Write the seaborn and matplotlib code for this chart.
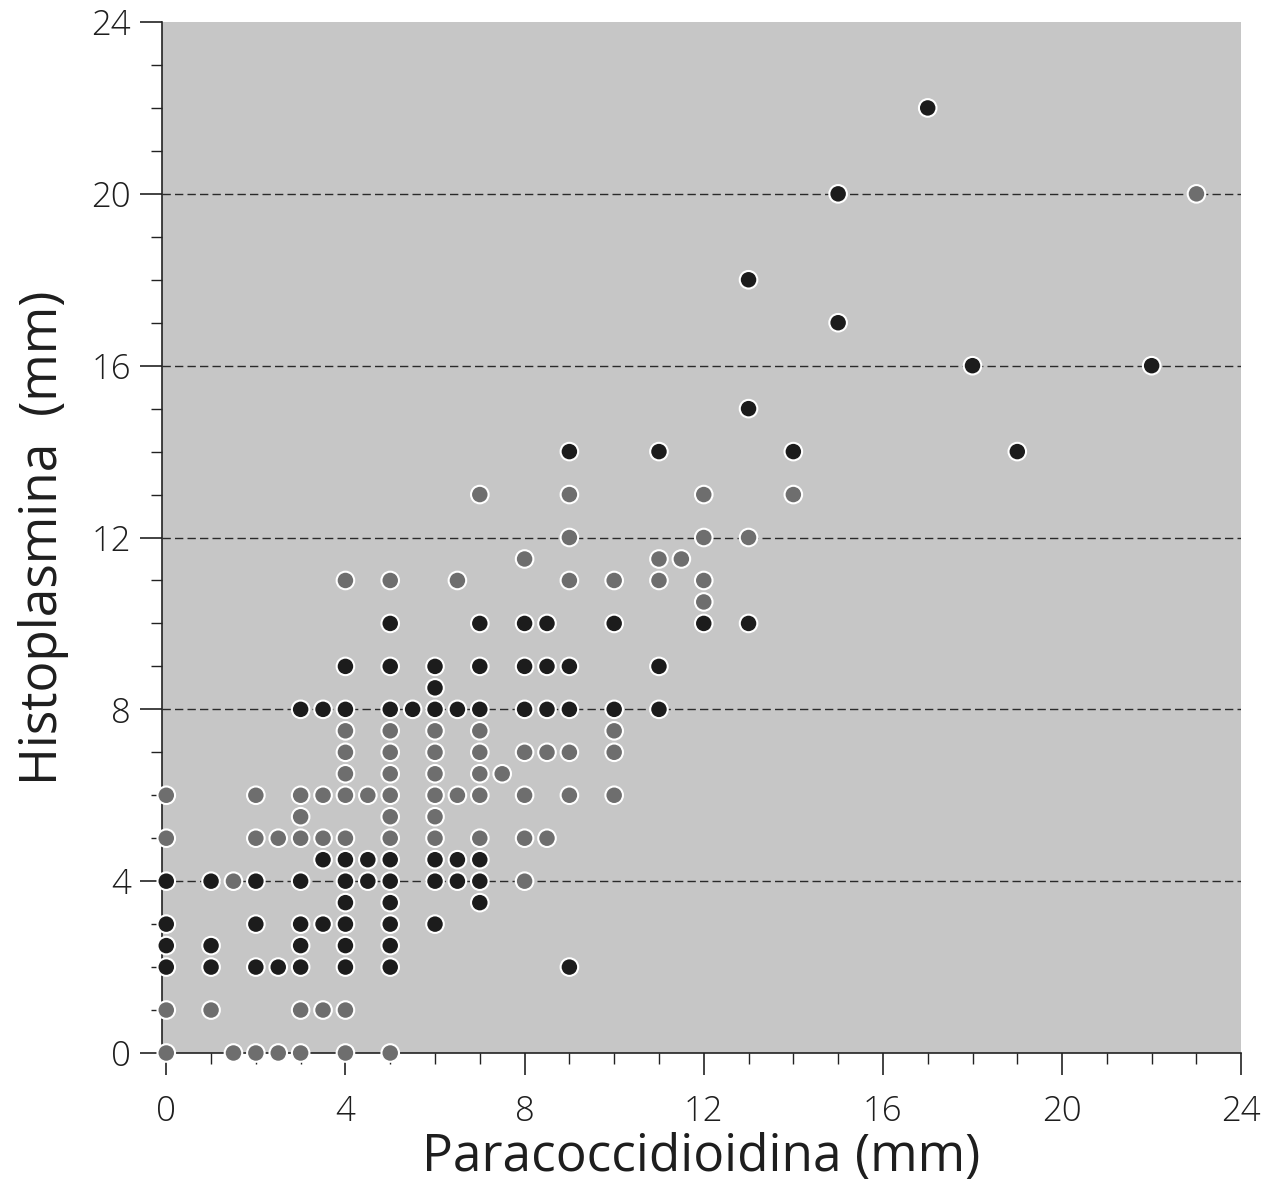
import numpy as np
import pandas as pd
import seaborn as sns
import matplotlib.pyplot as plt
from matplotlib.ticker import MultipleLocator

# puntos oscuros (x = Paracoccidioidina, y = Histoplasmina)
dark_x = [0, 1, 2, 2.5, 3, 4, 5, 9,
          0, 1, 3, 4, 5,
          0, 2, 3, 3.5, 4, 5, 6,
          4, 5, 7,
          0, 1, 2, 3, 4, 4.5, 5, 6, 6.5, 7,
          3.5, 4, 4.5, 5, 6, 6.5, 7,
          3, 3.5, 4, 5, 5.5, 6, 6.5, 7, 8, 8.5, 9, 10, 11,
          6,
          4, 5, 6, 7, 8, 8.5, 9, 11,
          5, 7, 8, 8.5, 10, 12, 13,
          9, 11, 14, 19,
          13, 18, 22, 15, 13, 15, 17]
dark_y = [2] * 8 + [2.5] * 5 + [3] * 7 + [3.5] * 3 + [4] * 10 + [4.5] * 7 \
    + [8] * 13 + [8.5] + [9] * 8 + [10] * 7 + [14] * 4 \
    + [15, 16, 16, 17, 18, 20, 22]

# puntos grises
gray_x = [0, 1.5, 2, 2.5, 3, 4, 5,
          0, 1, 3, 3.5, 4,
          1.5, 8,
          0, 2, 2.5, 3, 3.5, 4, 5, 6, 7, 8, 8.5,
          3, 5, 6,
          0, 2, 3, 3.5, 4, 4.5, 5, 6, 6.5, 7, 8, 9, 10,
          4, 5, 6, 7, 7.5,
          4, 5, 6, 7, 8, 8.5, 9, 10,
          4, 5, 6, 7, 10,
          12,
          4, 5, 6.5, 9, 10, 11, 12,
          8, 11, 11.5,
          9, 12, 13,
          7, 9, 12, 14,
          23]
gray_y = [0] * 7 + [1] * 5 + [4] * 2 + [5] * 11 + [5.5] * 3 + [6] * 13 \
    + [6.5] * 5 + [7] * 8 + [7.5] * 5 + [10.5] + [11] * 7 + [11.5] * 3 \
    + [12] * 3 + [13] * 4 + [20]

df = pd.concat([
    pd.DataFrame({"para": dark_x, "histo": dark_y, "tono": "oscuro"}),
    pd.DataFrame({"para": gray_x, "histo": gray_y, "tono": "gris"}),
])

sns.set_style("white")
plt.rcParams['font.family'] = ['Open Sans', 'DejaVu Sans']
plt.rcParams['font.weight'] = 'light'
txt = '#1e1e1e'

fig = plt.figure(figsize=(12.64, 11.97), dpi=100)
ax = fig.add_axes([0.128, 0.1203, 0.854, 0.8613])
ax.set_facecolor('#c6c6c6')

for yy in [4, 8, 12, 16, 20]:
    ax.axhline(yy, color='#2a2a2a', lw=1.0, ls=(0, (6, 3)), zorder=1)

sns.scatterplot(data=df, x="para", y="histo", hue="tono",
                palette={"oscuro": "#1c1c1c", "gris": "#6e6e6e"},
                s=160, edgecolor='white', linewidth=1.5,
                legend=False, ax=ax, zorder=3, clip_on=False)

ax.set_xlim(-0.1, 24)
ax.set_ylim(0, 24)
ax.xaxis.set_major_locator(MultipleLocator(4))
ax.xaxis.set_minor_locator(MultipleLocator(1))
ax.yaxis.set_major_locator(MultipleLocator(4))
ax.yaxis.set_minor_locator(MultipleLocator(1))
ax.tick_params(which='major', direction='out', length=16, width=1.2,
               color='#222222', labelsize=25, labelcolor=txt,
               bottom=True, left=True)
ax.tick_params(axis='x', which='major', pad=14)
ax.tick_params(axis='y', which='major', pad=6)
ax.tick_params(which='minor', direction='out', length=8, width=1.0,
               color='#222222', bottom=True, left=True)

for side in ['top', 'right']:
    ax.spines[side].set_visible(False)
for side in ['left', 'bottom']:
    ax.spines[side].set_color('#222222')
    ax.spines[side].set_linewidth(1.2)

ax.set_xlabel("Paracoccidioidina (mm)", fontsize=37, color=txt, labelpad=2)
ax.set_ylabel("Histoplasmina  (mm)", fontsize=37, color=txt, labelpad=16)

fig.savefig("out.png", dpi=100)
